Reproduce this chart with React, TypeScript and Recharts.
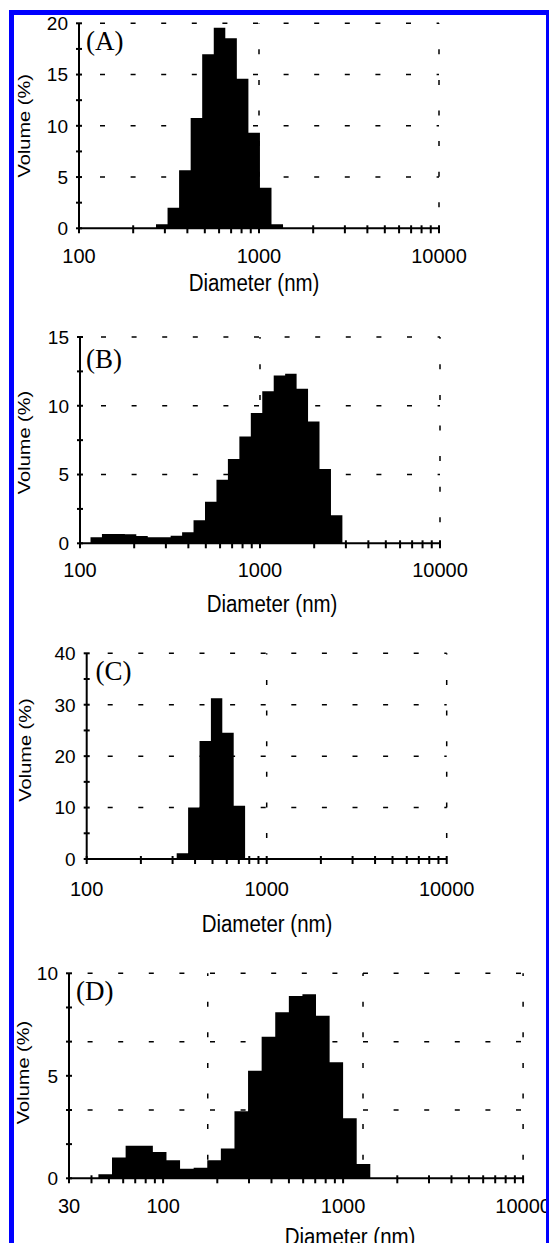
import React from 'react';
import { AreaChart, Area, XAxis, YAxis, ReferenceLine, Label } from 'recharts';

// ---------- Data (diameter bin edges in nm, volume % per bin) ----------
const edgesA = [267.8, 310.4, 359.8, 417.2, 483.5, 560.6, 649.8, 753.2, 873.3, 1012.2, 1173.3, 1360.1];
const volumeA = [0.4, 2.0, 5.66, 10.76, 16.97, 19.57, 18.54, 14.6, 9.33, 3.96, 0.4];

const edgesB = [114.4, 132.4, 153.3, 177.5, 205.5, 237.9, 275.4, 318.8, 369.2, 427.3, 494.8, 573.0, 663.2, 768.0, 889.1, 1029.2, 1191.7, 1379.4, 1597.2, 1849.0, 2141, 2479, 2869];
const volumeB = [0.44, 0.68, 0.68, 0.66, 0.53, 0.44, 0.44, 0.55, 0.8, 1.67, 3.03, 4.62, 6.13, 7.76, 9.48, 11.06, 12.2, 12.33, 11.23, 8.85, 5.4, 2.04];

const edgesC = [316.2, 365.9, 423.4, 489.8, 566.7, 655.7, 758.6];
const volumeC = [1.1, 10.0, 22.95, 31.25, 24.57, 10.37];

const edgesD = [43.7, 52.0, 61.9, 73.7, 87.7, 104.4, 124.2, 147.8, 175.9, 209.3, 249.1, 296.4, 352.7, 419.7, 499.5, 594.3, 707.2, 841.6, 1000, 1190, 1416];
const volumeD = [0.2, 1.02, 1.59, 1.59, 1.28, 0.88, 0.46, 0.52, 0.88, 1.45, 3.27, 5.25, 6.91, 8.1, 8.89, 8.98, 7.93, 5.66, 2.93, 0.7];

// ---------- Axis ticks ----------
const xTicksMain = [100, 200, 300, 400, 500, 600, 700, 800, 900, 1000, 2000, 3000, 4000, 5000, 6000, 7000, 8000, 9000, 10000];
const xLabelsMain = [100, 1000, 10000];
const xTicksD = [30, 40, 50, 60, 70, 80, 90, 100, 200, 300, 400, 500, 600, 700, 800, 900, 1000, 2000, 3000, 4000, 5000, 6000, 7000, 8000, 9000, 10000];
const xLabelsD = [30, 100, 1000, 10000];

const yTicksA = [0, 2.5, 5, 7.5, 10, 12.5, 15, 17.5, 20];
const yLabelsA = [0, 5, 10, 15, 20];
const yTicksB = [0, 2.5, 5, 7.5, 10, 12.5, 15];
const yLabelsB = [0, 5, 10, 15];
const yTicksC = [0, 5, 10, 15, 20, 25, 30, 35, 40];
const yLabelsC = [0, 10, 20, 30, 40];
const yTicksD = [0, 1.667, 3.333, 5, 6.667, 8.333, 10];
const yLabelsD = [0, 5, 10];

// ---------- Grid lines ----------
const gridYA = [5, 10, 15, 20];
const gridXA = [1000, 10000];
const gridYB = [5, 10, 15];
const gridXB = [1000, 10000];
const gridYC = [10, 20, 30, 40];
const gridXC = [1000, 10000];
const gridYD = [3.333, 6.667, 10];
const gridXD = [177, 1290, 10000];

const SANS = '"Liberation Sans", Arial, Helvetica, sans-serif';
const SERIF = '"Liberation Serif", "Times New Roman", Times, serif';

function toSteps(edges: number[], vols: number[]) {
  return edges.map((e, i) => ({ d: e, v: i < vols.length ? vols[i] : 0 }));
}

type PanelProps = {
  letter: string;
  edges: number[];
  vols: number[];
  xDomain: [number, number];
  yDomain: [number, number];
  xTicks: number[];
  xLabels: number[];
  yTicks: number[];
  yLabels: number[];
  gridY: number[];
  gridX: number[];
  top: number;
  height: number;
  plotLeft: number;
  plotRight: number;
  plotTop: number;
  plotBottom: number;
  xLabelDy: number;
  titleX: number;
  titleBaseline: number;
  volX: number;
  volCY: number;
  letterX: number;
  letterBaseline: number;
  dashOffset: number;
};

function Panel(p: PanelProps) {
  const data = toSteps(p.edges, p.vols);
  // axes get 1px of room (an axis of size 0 is not drawn)
  const margin = {
    top: p.plotTop - p.top,
    left: p.plotLeft - 1,
    right: 549 - p.plotRight,
    bottom: p.top + p.height - p.plotBottom - 1,
  };
  const gridStyle = {
    stroke: '#000',
    strokeWidth: 1.5,
    strokeDasharray: '5 25.6',
    strokeDashoffset: p.dashOffset,
  };
  const renderXTick = (props: any) => {
    const { x, y, payload } = props;
    const show = p.xLabels.includes(payload.value);
    return (
      <g>
        <line x1={x} x2={x} y1={y - 3} y2={y + 5} stroke="#000" strokeWidth={2} />
        {show && (
          <text x={x} y={y + p.xLabelDy} textAnchor="middle" fontSize={20} fontFamily={SANS} fill="#000">
            {String(payload.value)}
          </text>
        )}
      </g>
    );
  };
  const renderYTick = (props: any) => {
    const { x, y, payload } = props;
    const v = payload.value;
    const show = p.yLabels.some((l) => Math.abs(l - v) < 1e-6);
    return (
      <g>
        <line x1={x - 3} x2={x + 3} y1={y} y2={y} stroke="#000" strokeWidth={2} />
        {show && (
          <text x={x - 11} y={y + 6.8} textAnchor="end" fontSize={19} fontFamily={SANS} fill="#000">
            {String(v)}
          </text>
        )}
      </g>
    );
  };
  return (
    <div style={{ position: 'absolute', left: 0, top: p.top }}>
      <AreaChart width={549} height={p.height} data={data} margin={margin}>
        {p.gridY.map((g) => (
          <ReferenceLine
            key={`gy${g}`}
            segment={[
              { x: p.xDomain[0], y: g },
              { x: p.xDomain[1], y: g },
            ]}
            {...gridStyle}
          />
        ))}
        {p.gridX.map((g) => (
          <ReferenceLine
            key={`gx${g}`}
            segment={[
              { x: g, y: p.yDomain[0] },
              { x: g, y: p.yDomain[1] },
            ]}
            {...gridStyle}
          />
        ))}
        <Area
          type="stepAfter"
          dataKey="v"
          stroke="none"
          fill="#000"
          fillOpacity={1}
          isAnimationActive={false}
          dot={false}
          activeDot={false}
        />
        <XAxis
          dataKey="d"
          type="number"
          scale="log"
          domain={p.xDomain}
          allowDataOverflow
          ticks={p.xTicks}
          interval={0}
          height={1}
          tickSize={0}
          tickMargin={0}
          tickLine={false}
          axisLine={{ stroke: '#000', strokeWidth: 2 }}
          tick={renderXTick}
        >
          <Label
            content={() => (
              <text
                transform={`translate(${p.titleX},${p.titleBaseline}) scale(0.89,1)`}
                textAnchor="middle"
                fontSize={23}
                fontFamily={SANS}
                fill="#000"
              >
                Diameter (nm)
              </text>
            )}
          />
        </XAxis>
        <YAxis
          type="number"
          domain={p.yDomain}
          allowDataOverflow
          ticks={p.yTicks}
          interval={0}
          width={1}
          tickSize={0}
          tickMargin={0}
          tickLine={false}
          axisLine={{ stroke: '#000', strokeWidth: 2 }}
          tick={renderYTick}
        >
          <Label
            content={() => (
              <g>
                <text
                  transform={`translate(${p.volX},${p.volCY}) rotate(-90) scale(1,0.85)`}
                  textAnchor="middle"
                  fontSize={20}
                  fontFamily={SANS}
                  fill="#000"
                >
                  Volume (%)
                </text>
                <text x={p.letterX} y={p.letterBaseline} fontSize={27} fontFamily={SERIF} fill="#000">
                  {`(${p.letter})`}
                </text>
              </g>
            )}
          />
        </YAxis>
      </AreaChart>
    </div>
  );
}

export default function App() {
  return (
    <div
      style={{
        position: 'absolute',
        left: 0,
        top: 0,
        width: 549,
        height: 1243,
        background: '#fff',
        overflow: 'hidden',
      }}
    >
      <Panel
        letter="A"
        edges={edgesA}
        vols={volumeA}
        xDomain={[100, 10000]}
        yDomain={[0, 20]}
        xTicks={xTicksMain}
        xLabels={xLabelsMain}
        yTicks={yTicksA}
        yLabels={yLabelsA}
        gridY={gridYA}
        gridX={gridXA}
        top={0}
        height={300}
        plotLeft={79}
        plotRight={439}
        plotTop={23.3}
        plotBottom={228.3}
        xLabelDy={35}
        titleX={254}
        titleBaseline={291}
        volX={30}
        volCY={125.8}
        letterX={86}
        letterBaseline={50}
        dashOffset={9.6}
      />
      <Panel
        letter="B"
        edges={edgesB}
        vols={volumeB}
        xDomain={[100, 10000]}
        yDomain={[0, 15]}
        xTicks={xTicksMain}
        xLabels={xLabelsMain}
        yTicks={yTicksB}
        yLabels={yLabelsB}
        gridY={gridYB}
        gridX={gridXB}
        top={300}
        height={320}
        plotLeft={80}
        plotRight={440}
        plotTop={337}
        plotBottom={543.3}
        xLabelDy={33.4}
        titleX={272}
        titleBaseline={311.7}
        volX={30}
        volCY={142.5}
        letterX={86}
        letterBaseline={68.3}
        dashOffset={9.6}
      />
      <Panel
        letter="C"
        edges={edgesC}
        vols={volumeC}
        xDomain={[100, 10000]}
        yDomain={[0, 40]}
        xTicks={xTicksMain}
        xLabels={xLabelsMain}
        yTicks={yTicksC}
        yLabels={yLabelsC}
        gridY={gridYC}
        gridX={gridXC}
        top={620}
        height={320}
        plotLeft={86.7}
        plotRight={446.7}
        plotTop={653.3}
        plotBottom={859}
        xLabelDy={37}
        titleX={267}
        titleBaseline={311.7}
        volX={30.5}
        volCY={130}
        letterX={95.5}
        letterBaseline={60}
        dashOffset={9.6}
      />
      <Panel
        letter="D"
        edges={edgesD}
        vols={volumeD}
        xDomain={[30, 10000]}
        yDomain={[0, 10]}
        xTicks={xTicksD}
        xLabels={xLabelsD}
        yTicks={yTicksD}
        yLabels={yLabelsD}
        gridY={gridYD}
        gridX={gridXD}
        top={940}
        height={303}
        plotLeft={69}
        plotRight={523.1}
        plotTop={973.3}
        plotBottom={1178.3}
        xLabelDy={35}
        titleX={350}
        titleBaseline={305}
        volX={28.5}
        volCY={132.5}
        letterX={76}
        letterBaseline={60}
        dashOffset={12}
      />
      {/* blue frame */}
      <div style={{ position: 'absolute', left: 9, top: 10, width: 540, height: 5, background: '#0000ff' }} />
      <div style={{ position: 'absolute', left: 9, top: 10, width: 5, height: 1233, background: '#0000ff' }} />
      <div style={{ position: 'absolute', left: 546, top: 10, width: 3, height: 1233, background: '#0000ff' }} />
    </div>
  );
}
